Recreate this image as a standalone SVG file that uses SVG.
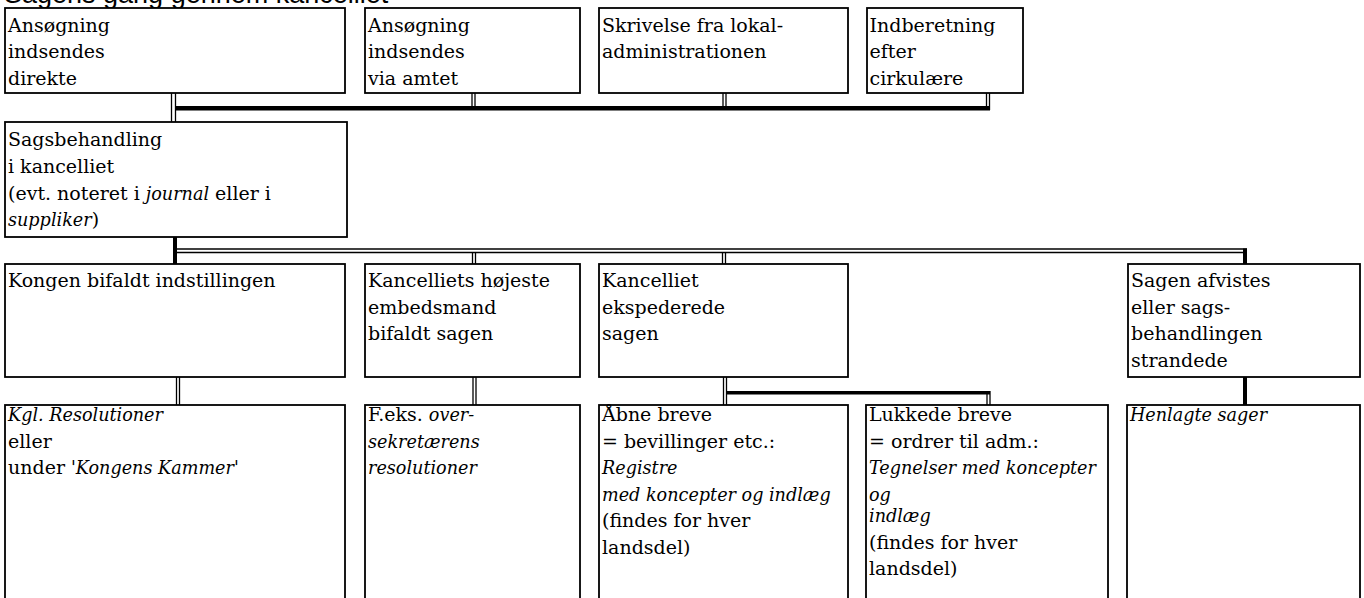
<svg xmlns="http://www.w3.org/2000/svg" width="1364" height="598" viewBox="0 0 1364 598">
<style>
.box{fill:#fff;stroke:#000;stroke-width:1.8}
.t{font-family:"DejaVu Serif","Liberation Serif",serif;font-size:19px;fill:#000}
.i{font-style:italic;font-size:17.6px}
.title{font-family:"Liberation Sans",Arial,sans-serif;font-size:27px;fill:#000}
.dl{stroke:#000;stroke-width:1.3;fill:none}
.tk{fill:#000}
</style>
<rect width="1364" height="598" fill="#fff"/>
<text class="title" x="4" y="3">Sagens gang gennem kancelliet</text>
<g id="connectors">
  <line class="dl" x1="171.5" y1="93" x2="171.5" y2="122"/>
  <line class="dl" x1="175.5" y1="93" x2="175.5" y2="122"/>
  <line class="dl" x1="472" y1="93" x2="472" y2="107"/>
  <line class="dl" x1="475" y1="93" x2="475" y2="107"/>
  <line class="dl" x1="723" y1="93" x2="723" y2="107"/>
  <line class="dl" x1="726" y1="93" x2="726" y2="107"/>
  <line class="dl" x1="986.5" y1="93" x2="986.5" y2="107"/>
  <line class="dl" x1="989.5" y1="93" x2="989.5" y2="110"/>
  <rect class="tk" x="175" y="106" width="815" height="4.5"/>
  <rect class="tk" x="173" y="237" width="4" height="27"/>
  <line class="dl" x1="177" y1="249" x2="1247" y2="249"/>
  <line class="dl" x1="177" y1="252.5" x2="1243" y2="252.5"/>
  <rect class="tk" x="1243" y="248.5" width="4" height="16"/>
  <line class="dl" x1="472.5" y1="252.5" x2="472.5" y2="264"/>
  <line class="dl" x1="475.5" y1="252.5" x2="475.5" y2="264"/>
  <line class="dl" x1="722.5" y1="252.5" x2="722.5" y2="264"/>
  <line class="dl" x1="725.5" y1="252.5" x2="725.5" y2="264"/>
  <line class="dl" x1="176.5" y1="377" x2="176.5" y2="405"/>
  <line class="dl" x1="179.5" y1="377" x2="179.5" y2="405"/>
  <line class="dl" x1="473" y1="377" x2="473" y2="405"/>
  <line class="dl" x1="476" y1="377" x2="476" y2="405"/>
  <line class="dl" x1="723.5" y1="377" x2="723.5" y2="405"/>
  <line class="dl" x1="726.5" y1="377" x2="726.5" y2="405"/>
  <rect class="tk" x="726" y="391" width="264" height="3.5"/>
  <line class="dl" x1="987" y1="394" x2="987" y2="405"/>
  <line class="dl" x1="990" y1="391" x2="990" y2="405"/>
  <rect class="tk" x="1243" y="377" width="4" height="28"/>
</g>
<g id="n1">
  <rect class="box" x="5" y="8" width="340" height="85"/>
  <text class="t" x="8" y="31.5">Ansøgning</text>
  <text class="t" x="8" y="58">indsendes</text>
  <text class="t" x="8" y="84.5">direkte</text>
</g>
<g id="n2">
  <rect class="box" x="365" y="8" width="215" height="85"/>
  <text class="t" x="368" y="31.5">Ansøgning</text>
  <text class="t" x="368" y="58">indsendes</text>
  <text class="t" x="368" y="84.5">via amtet</text>
</g>
<g id="n3">
  <rect class="box" x="599" y="8" width="249" height="85"/>
  <text class="t" x="602" y="31.5">Skrivelse fra lokal-</text>
  <text class="t" x="602" y="58">administrationen</text>
</g>
<g id="n4">
  <rect class="box" x="867" y="8" width="156" height="85"/>
  <text class="t" x="869.5" y="31.5">Indberetning</text>
  <text class="t" x="869.5" y="58">efter</text>
  <text class="t" x="869.5" y="84.5">cirkulære</text>
</g>
<g id="n5">
  <rect class="box" x="5" y="122" width="342" height="115"/>
  <text class="t" x="8" y="145.5">Sagsbehandling</text>
  <text class="t" x="8" y="172.5">i kancelliet</text>
  <text class="t" x="8" y="199.5">(evt. noteret i <tspan class="i">journal</tspan> eller i</text>
  <text class="t" x="8" y="226"><tspan class="i">suppliker</tspan>)</text>
</g>
<g id="n6">
  <rect class="box" x="5" y="264" width="340" height="113"/>
  <text class="t" x="8" y="287">Kongen bifaldt indstillingen</text>
</g>
<g id="n7">
  <rect class="box" x="365" y="264" width="215" height="113"/>
  <text class="t" x="368" y="287">Kancelliets højeste</text>
  <text class="t" x="368" y="313.5">embedsmand</text>
  <text class="t" x="368" y="340">bifaldt sagen</text>
</g>
<g id="n8">
  <rect class="box" x="599" y="264" width="249" height="113"/>
  <text class="t" x="602" y="287">Kancelliet</text>
  <text class="t" x="602" y="313.5">ekspederede</text>
  <text class="t" x="602" y="340">sagen</text>
</g>
<g id="n9">
  <rect class="box" x="1128" y="264" width="232" height="113"/>
  <text class="t" x="1131" y="287">Sagen afvistes</text>
  <text class="t" x="1131" y="313.5">eller sags-</text>
  <text class="t" x="1131" y="340">behandlingen</text>
  <text class="t" x="1131" y="366.5">strandede</text>
</g>
<g id="n10">
  <rect class="box" x="5" y="405" width="340" height="200"/>
  <text class="t i" x="8" y="421">Kgl. Resolutioner</text>
  <text class="t" x="8" y="447.5">eller</text>
  <text class="t" x="8" y="474">under <tspan class="i">'Kongens Kammer'</tspan></text>
</g>
<g id="n11">
  <rect class="box" x="365" y="405" width="215" height="200"/>
  <text class="t" x="368" y="421">F.eks. <tspan class="i">over-</tspan></text>
  <text class="t i" x="368" y="447.5">sekretærens</text>
  <text class="t i" x="368" y="474">resolutioner</text>
</g>
<g id="n12">
  <rect class="box" x="599" y="405" width="249" height="200"/>
  <text class="t" x="602" y="421">Åbne breve</text>
  <text class="t" x="602" y="447.5">= bevillinger etc.:</text>
  <text class="t i" x="602" y="474">Registre</text>
  <text class="t i" x="602" y="500.5">med koncepter og indlæg</text>
  <text class="t" x="602" y="527">(findes for hver</text>
  <text class="t" x="602" y="553.5">landsdel)</text>
</g>
<g id="n13">
  <rect class="box" x="866" y="405" width="242" height="200"/>
  <text class="t" x="869" y="421">Lukkede breve</text>
  <text class="t" x="869" y="447.5">= ordrer til adm.:</text>
  <text class="t i" x="869" y="474">Tegnelser med koncepter</text>
  <text class="t i" x="869" y="500.5">og</text>
  <text class="t i" x="869" y="522">indlæg</text>
  <text class="t" x="869" y="548.5">(findes for hver</text>
  <text class="t" x="869" y="575">landsdel)</text>
</g>
<g id="n14">
  <rect class="box" x="1127" y="405" width="233" height="200"/>
  <text class="t i" x="1130" y="421">Henlagte sager</text>
</g>
</svg>
